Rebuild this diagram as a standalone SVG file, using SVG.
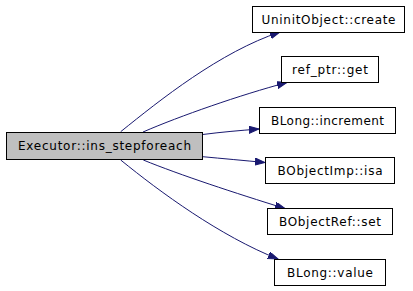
<svg xmlns="http://www.w3.org/2000/svg" width="413" height="291" viewBox="0 0 413 291">
<defs>
<style>
.box{fill:#ffffff;stroke:#000000;stroke-width:1}
.main{fill:#bfbfbf;stroke:#000000;stroke-width:1}
.lbl{font-family:"DejaVu Sans","Liberation Sans",sans-serif;font-size:12px;fill:#000000;text-anchor:middle}
.edge{fill:none;stroke:#191970;stroke-width:1;marker-end:url(#arr)}
</style>
<marker id="arr" markerUnits="userSpaceOnUse" markerWidth="11" markerHeight="8" refX="10" refY="3.5" orient="auto">
<path d="M0,0 L10,3.5 L0,7 z" fill="#191970" stroke="#191970" stroke-width="1"/>
</marker>
</defs>
<rect width="413" height="291" fill="#ffffff"/>
<g id="edges">
<path class="edge" d="M120.7,131.7 C160,100 220,52 280,32"/>
<path class="edge" d="M143,132 C180,116 240,95 287,82.5"/>
<path class="edge" d="M202.7,134.5 C222,132 240,130.5 259,129"/>
<path class="edge" d="M202.7,156.7 C222,158.5 244,160.5 265,162.5"/>
<path class="edge" d="M143.3,160 C180,175 235,193 285,208.5"/>
<path class="edge" d="M120.7,160 C160,192 220,236 278,259"/>
</g>
<g id="main">
<rect class="main" x="6.5" y="132.5" width="196" height="27"/>
<text class="lbl" x="104.5" y="150" textLength="173" lengthAdjust="spacing">Executor::ins_stepforeach</text>
</g>
<g id="uninit_create">
<rect class="box" x="252.5" y="6.5" width="152" height="26"/>
<text class="lbl" x="328.5" y="24" textLength="134" lengthAdjust="spacing">UninitObject::create</text>
</g>
<g id="refptr_get">
<rect class="box" x="281.5" y="56.5" width="97" height="26"/>
<text class="lbl" x="330" y="74" textLength="76" lengthAdjust="spacing">ref_ptr::get</text>
</g>
<g id="blong_increment">
<rect class="box" x="259.5" y="107.5" width="136" height="26"/>
<text class="lbl" x="327.5" y="125" textLength="113" lengthAdjust="spacing">BLong::increment</text>
</g>
<g id="bobjectimp_isa">
<rect class="box" x="265.5" y="157.5" width="129" height="26"/>
<text class="lbl" x="330" y="175" textLength="105" lengthAdjust="spacing">BObjectImp::isa</text>
</g>
<g id="bobjectref_set">
<rect class="box" x="267.5" y="208.5" width="125" height="26"/>
<text class="lbl" x="330" y="226" textLength="102" lengthAdjust="spacing">BObjectRef::set</text>
</g>
<g id="blong_value">
<rect class="box" x="274.5" y="259.5" width="111" height="26"/>
<text class="lbl" x="330" y="277" textLength="86" lengthAdjust="spacing">BLong::value</text>
</g>
</svg>
